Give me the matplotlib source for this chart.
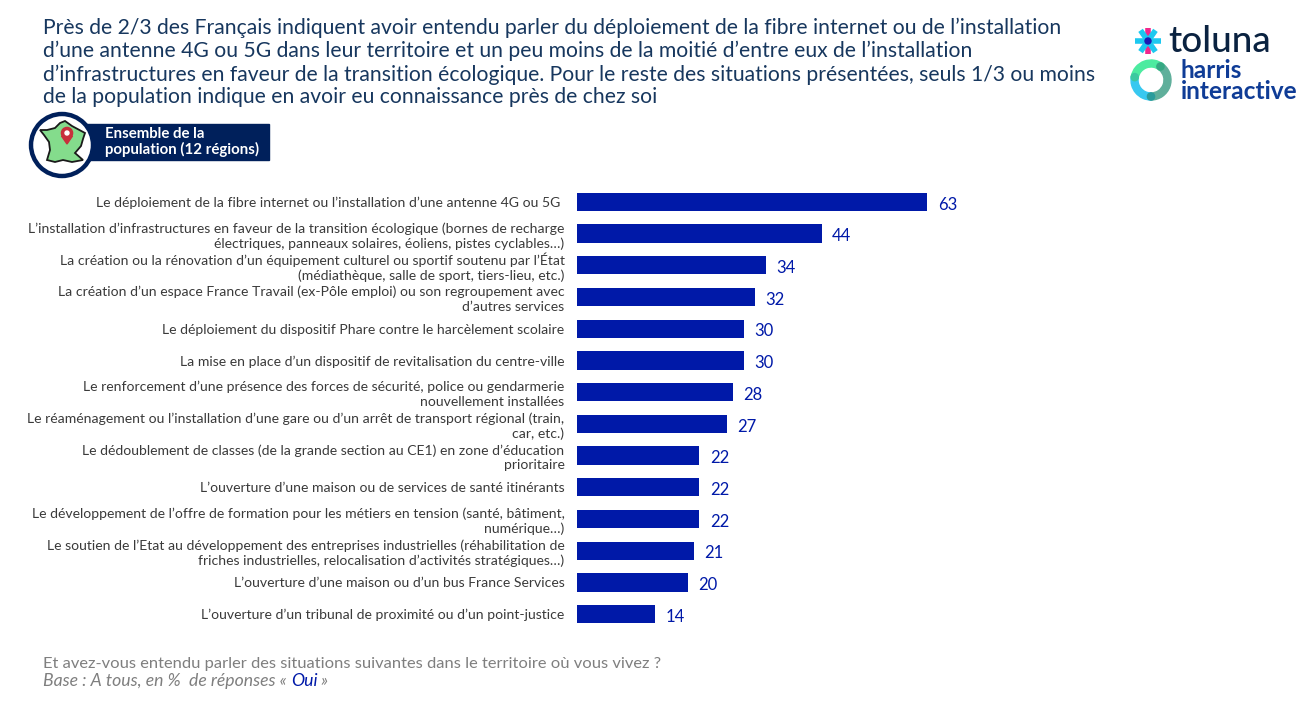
import numpy as np
from matplotlib import pyplot as plt
from matplotlib.patches import Circle, Polygon, Rectangle, Wedge

plt.rcParams['font.family'] = ['Lato', 'DejaVu Sans']

#======================================================================================================
# Survey results
situations = [
    "Le déploiement de la fibre internet ou l’installation d’une antenne 4G ou 5G ",
    "L’installation d’infrastructures en faveur de la transition écologique (bornes de recharge\nélectriques, panneaux solaires, éoliens, pistes cyclables…)",
    "La création ou la rénovation d’un équipement culturel ou sportif soutenu par l’État\n(médiathèque, salle de sport, tiers-lieu, etc.)",
    "La création d’un espace France Travail (ex-Pôle emploi) ou son regroupement avec\nd’autres services",
    "Le déploiement du dispositif Phare contre le harcèlement scolaire",
    "La mise en place d’un dispositif de revitalisation du centre-ville",
    "Le renforcement d’une présence des forces de sécurité, police ou gendarmerie\nnouvellement installées",
    "Le réaménagement ou l’installation d’une gare ou d’un arrêt de transport régional (train,\ncar, etc.)",
    "Le dédoublement de classes (de la grande section au CE1) en zone d’éducation\nprioritaire",
    "L’ouverture d’une maison ou de services de santé itinérants",
    "Le développement de l’offre de formation pour les métiers en tension (santé, bâtiment,\nnumérique…)",
    "Le soutien de l’Etat au développement des entreprises industrielles (réhabilitation de\nfriches industrielles, relocalisation d’activités stratégiques…)",
    "L’ouverture d’une maison ou d’un bus France Services",
    "L’ouverture d’un tribunal de proximité ou d’un point-justice",
]
oui_pct = [63, 44, 34, 32, 30, 30, 28, 27, 22, 22, 22, 21, 20, 14]

headline = ("Près de 2/3 des Français indiquent avoir entendu parler du déploiement de la fibre internet ou de l’installation\n"
            "d’une antenne 4G ou 5G dans leur territoire et un peu moins de la moitié d’entre eux de l’installation\n"
            "d’infrastructures en faveur de la transition écologique. Pour le reste des situations présentées, seuls 1/3 ou moins\n"
            "de la population indique en avoir eu connaissance près de chez soi")

W, H = 1314, 714
BLUE = '#0019A8'
NAVY = '#00205B'
GREY = '#7F7F7F'

#======================================================================================================

def draw_bars(fig):
    # px per percentage point is 5.56, rows are 31.7 px apart
    left, right, top, bottom = 577, 1300, 186, 630
    ax = fig.add_axes([left / W, 1 - bottom / H, (right - left) / W, (bottom - top) / H])
    y = np.arange(len(oui_pct))
    ax.barh(y, oui_pct, height=0.575, color=BLUE)
    ax.set_xlim(0, (right - left) / 5.56)
    ax.set_ylim(len(oui_pct) - 0.5, -0.5)
    ax.set_yticks(y, situations, fontsize=10.1, color='#3a3a3a', linespacing=1.25)
    ax.tick_params(axis='y', length=0, pad=9)
    ax.xaxis.set_visible(False)
    for side in ax.spines.values():
        side.set_visible(False)
    for i, v in enumerate(oui_pct):
        ax.annotate(str(v), (v, i), xytext=(7.5, -2), textcoords='offset points',
                    va='center', ha='left', fontsize=12, color=BLUE)


def draw_badge(bg):
    bg.add_patch(Rectangle((62, 124), 207, 36, color=NAVY, zorder=1))
    bg.add_patch(Circle((62, 145), 31, facecolor='white', edgecolor=NAVY, linewidth=3.2, zorder=2))
    france = [(65, 121), (72, 126), (85, 133), (83, 139), (81, 146), (75, 153), (83, 160), (72, 162),
              (63, 160), (55, 162), (47, 160), (50, 150), (49, 142), (44, 135), (40, 130), (47, 130), (55, 128), (60, 123)]
    bg.add_patch(Polygon(france, closed=True, facecolor='#84DC8C', edgecolor='#1a1a1a', linewidth=1.3, zorder=3))
    # location pin
    bg.add_patch(Polygon([(61.5, 136), (72.5, 136), (67, 144)], closed=True, color='#C8303C', zorder=4))
    bg.add_patch(Circle((67, 133), 5.6, color='#C8303C', zorder=4))
    bg.add_patch(Circle((67, 133), 2, color='white', zorder=5))
    bg.text(105, 142, "Ensemble de la\npopulation (12 régions)", color='white', fontsize=10.8,
            fontweight='bold', va='center', ha='left', linespacing=1.08, zorder=3)


def draw_logos(bg):
    # toluna star
    cx, cy = 1148, 41
    bg.plot([cx, cx], [cy - 13, cy + 13], color='#F0288C', linewidth=4, solid_capstyle='butt')
    for a in (0, 55, 125):
        dx, dy = 13 * np.cos(np.radians(a)), 13 * np.sin(np.radians(a))
        bg.plot([cx - dx, cx + dx], [cy - dy, cy + dy], color='#1CC8F0', linewidth=4, solid_capstyle='butt')
    bg.add_patch(Circle((cx, cy), 3, color='#1A1AB4', zorder=4))
    bg.text(1168, 42, "toluna", fontsize=26.5, color='#0A2240', va='center', ha='left', fontweight='medium')

    # harris ring, angles run clockwise because the y axis is flipped
    ring = [(310, 450, '#5FAF9B'), (90, 190, '#38C8F0'), (190, 310, '#4CEBA0')]
    for a0, a1, col in ring:
        bg.add_patch(Wedge((1151, 80), 20, a0, a1, width=7, color=col))
    for a, col in ((305, '#35A883'), (90, '#2A9C9C'), (190, '#3CC8A0')):
        bg.add_patch(Circle((1151 + 16.5 * np.cos(np.radians(a)), 80 + 16.5 * np.sin(np.radians(a))), 3.6, color=col, zorder=3))
    bg.text(1181, 81, "harris\ninteractive", fontsize=17.6, color='#0F3C96', va='center', ha='left',
            fontweight='bold', linespacing=0.92)


def main():
    fig = plt.figure(figsize=[W / 100, H / 100], dpi=100)
    bg = fig.add_axes([0, 0, 1, 1])
    bg.set_xlim(0, W)
    bg.set_ylim(H, 0)
    bg.axis('off')

    bg.text(43, 62.5, headline, fontsize=15.25, color='#17375E', va='center', ha='left', linespacing=1.18)
    draw_badge(bg)
    draw_logos(bg)

    bg.text(43, 664, "Et avez-vous entendu parler des situations suivantes dans le territoire où vous vivez ?",
            fontsize=11.87, color=GREY, va='center', ha='left')
    base = bg.text(43, 681, "Base : A tous, en %  de réponses « ", fontsize=12.7, color=GREY,
                   style='italic', va='center', ha='left')
    oui = bg.annotate("Oui", xy=(1, 0), xycoords=base, va='bottom', ha='left', fontsize=12.7,
                      color=BLUE, style='italic')
    bg.annotate(" »", xy=(1, 0), xycoords=oui, va='bottom', ha='left', fontsize=12.7,
                color=GREY, style='italic')

    draw_bars(fig)
    fig.savefig('out.png', dpi=100)


if __name__ == "__main__":
    main()
